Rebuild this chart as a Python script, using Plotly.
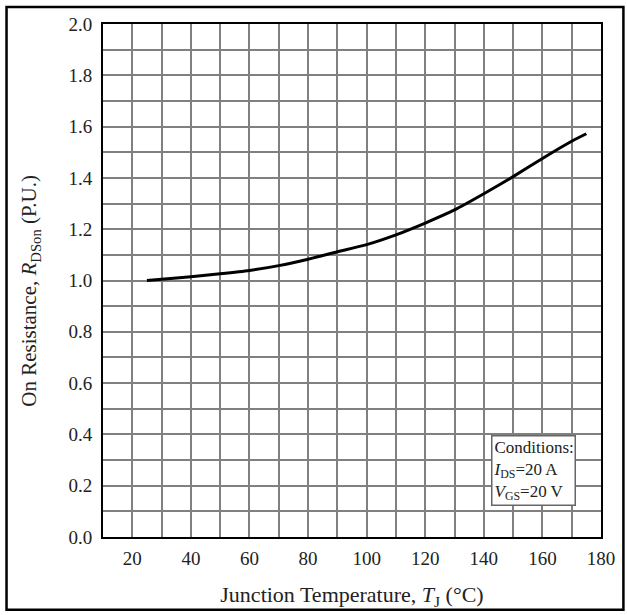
import plotly.graph_objects as go

# Data
temperature_c = [25, 30, 40, 50, 60, 70, 80, 90, 100, 110, 120, 130, 140, 150, 160, 170, 175]
r_dson_pu = [1.000, 1.005, 1.015, 1.026, 1.039, 1.058, 1.083, 1.112, 1.140, 1.178,
             1.224, 1.275, 1.338, 1.405, 1.476, 1.543, 1.572]

x_tick_vals = [20, 40, 60, 80, 100, 120, 140, 160, 180]
x_tick_text = ["20", "40", "60", "80", "100", "120", "140", "160", "180"]
y_tick_vals = [0.0, 0.2, 0.4, 0.6, 0.8, 1.0, 1.2, 1.4, 1.6, 1.8, 2.0]
y_tick_text = ["0.0", "0.2", "0.4", "0.6", "0.8", "1.0", "1.2", "1.4", "1.6", "1.8", "2.0"]

FONT = "Liberation Serif"
TXT = "#222222"
GRID = "#808080"

fig = go.Figure()
fig.add_trace(go.Scatter(
    x=temperature_c, y=r_dson_pu, mode="lines",
    line=dict(color="black", width=3, shape="spline", smoothing=0.6),
    showlegend=False, hoverinfo="x+y",
))

fig.update_layout(
    width=627, height=615,
    margin=dict(l=103, r=18, t=24, b=76),
    paper_bgcolor="white", plot_bgcolor="white",
    font=dict(family=FONT, color=TXT, size=19),
    xaxis=dict(
        range=[10, 180], tickvals=x_tick_vals, ticktext=x_tick_text,
        showgrid=True, gridcolor=GRID, gridwidth=1.6,
        minor=dict(dtick=10, tick0=10, showgrid=True, gridcolor=GRID, gridwidth=1.6),
        showline=True, linecolor="black", linewidth=2, mirror=True,
        ticks="", zeroline=False, ticklabelstandoff=3,
        tickfont=dict(family=FONT, size=19, color=TXT),
        title=dict(text="Junction Temperature, <i>T</i><sub>J</sub> (°C)",
                   font=dict(family=FONT, size=22, color=TXT), standoff=19),
    ),
    yaxis=dict(
        range=[0, 2.0], tickvals=y_tick_vals, ticktext=y_tick_text,
        showgrid=True, gridcolor=GRID, gridwidth=1.6,
        minor=dict(dtick=0.1, tick0=0, showgrid=True, gridcolor=GRID, gridwidth=1.6),
        showline=True, linecolor="black", linewidth=2, mirror=True,
        ticks="", zeroline=False, ticklabelstandoff=5,
        tickfont=dict(family=FONT, size=19, color=TXT),
    ),
)

# Y-axis title placed as a rotated annotation
fig.add_annotation(
    x=0, y=0.48, xref="paper", yref="paper", xanchor="center", yanchor="middle",
    xshift=-73, textangle=-90, showarrow=False,
    text="On Resistance, <i>R</i><sub>DSon</sub> (P.U.)",
    font=dict(family=FONT, size=21, color=TXT),
)

fig.add_annotation(
    x=142.4, y=0.396, xref="x", yref="y", xanchor="left", yanchor="top",
    text="Conditions:<br><i>I</i><sub>DS</sub>=20 A<br><i>V</i><sub>GS</sub>=20 V",
    showarrow=False, align="left",
    font=dict(family=FONT, size=17, color=TXT),
    bgcolor="white", bordercolor="#666666", borderwidth=1.5, borderpad=1,
)

# Outer frame around the figure
fig.add_shape(type="rect", xref="paper", yref="paper",
              x0=-0.1937, x1=1.045, y0=-0.1417, y1=1.033,
              line=dict(color="black", width=2.5), fillcolor="rgba(0,0,0,0)", layer="above")

fig.write_html("out.html", config={"displayModeBar": False},
               post_script="document.body.style.margin='0';document.body.style.padding='0';")
